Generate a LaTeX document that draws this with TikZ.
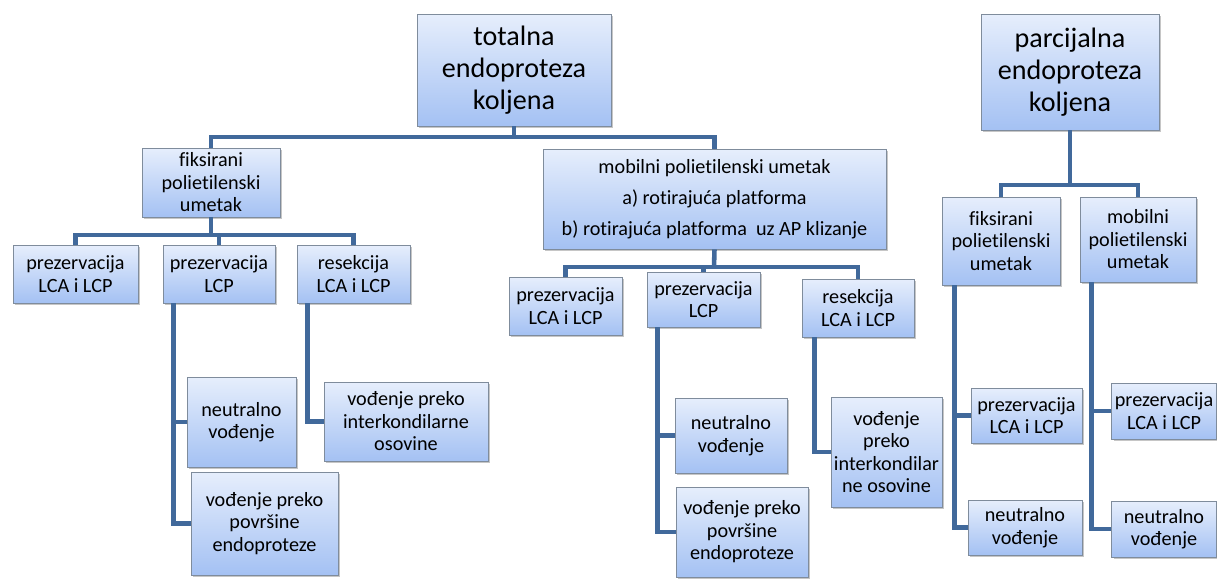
\documentclass[tikz,border=0pt]{standalone}
\usepackage{fontspec}
\setmainfont{Carlito}[Ligatures=NoCommon]
\usepackage{xcolor}
\usepackage{tikz}
\usetikzlibrary{shapes, shadows}

\definecolor{boxtop}{HTML}{E6EEFC}
\definecolor{boxbot}{HTML}{A4C1F3}
\definecolor{boxline}{HTML}{7F8C9C}
\definecolor{linkblue}{HTML}{41699B}

\begin{document}
\begin{tikzpicture}[x=0.02cm, y=-0.02cm,
    box/.style={draw=boxline, rectangle, line width=0.5pt, top color=boxtop, bottom color=boxbot,
        align=center, inner sep=1pt, font=\fontsize{11.5}{12.8}\selectfont,
        drop shadow={shadow xshift=0.04cm, shadow yshift=-0.04cm, opacity=0.45}},
    bigbox/.style={box, font=\fontsize{16}{18.4}\selectfont},
    link/.style={draw=linkblue, line width=2.6pt}]
    \useasboundingbox (0,0) rectangle (1217,579);

    % top level
    \node [bigbox, minimum width=3.88cm, minimum height=2.24cm] (total) at (514,70) {totalna\\endoproteza\\koljena};
    \node [bigbox, minimum width=3.56cm, minimum height=2.32cm] (partial) at (1070,72) {parcijalna\\endoproteza\\koljena};

    % totalna
    \node [box, minimum width=2.76cm, minimum height=1.38cm] (fixA) at (211,182.5) {fiksirani\\polietilenski\\umetak};
    \node [box, minimum width=6.86cm, minimum height=2.0cm] (mobA) at (714.5,199) {mobilni polietilenski umetak\\[5pt]a) rotirajuća platforma\\[5pt]b) rotirajuća platforma\ \ uz AP klizanje};

    \node [box, minimum width=2.5cm, minimum height=1.16cm] (lcaA) at (75.5,274) {prezervacija\\LCA i LCP};
    \node [box, minimum width=2.24cm, minimum height=1.16cm] (lcpA) at (219,274) {prezervacija\\LCP};
    \node [box, minimum width=2.26cm, minimum height=1.16cm] (resA) at (353.5,274) {resekcija\\LCA i LCP};
    \node [box, minimum width=2.18cm, minimum height=1.8cm] (neutA) at (241.5,422) {neutralno\\vođenje};
    \node [box, minimum width=2.94cm, minimum height=2.06cm] (povA) at (264.5,523.5) {vođenje preko\\površine\\endoproteze};
    \node [box, minimum width=3.28cm, minimum height=1.58cm] (intA) at (406,421.5) {vođenje preko\\interkondilarne\\osovine};

    \node [box, minimum width=2.26cm, minimum height=1.16cm] (lcaB) at (565.5,306) {prezervacija\\LCA i LCP};
    \node [box, minimum width=2.26cm, minimum height=1.1cm] (lcpB) at (703.5,299.5) {prezervacija\\LCP};
    \node [box, minimum width=2.24cm, minimum height=1.16cm] (resB) at (858,308) {resekcija\\LCA i LCP};
    \node [box, minimum width=2.24cm, minimum height=1.5cm] (neutB) at (731,435.5) {neutralno\\vođenje};
    \node [box, minimum width=2.64cm, minimum height=1.8cm] (povB) at (742,532) {vođenje preko\\površine\\endoproteze};
    \node [box, minimum width=2.22cm, minimum height=2.2cm] (intB) at (886.5,452) {vođenje\\preko\\interkondilar\\ne osovine};

    % parcijalna
    \node [box, minimum width=2.36cm, minimum height=1.76cm] (fixC) at (1001,241) {fiksirani\\polietilenski\\umetak};
    \node [box, minimum width=2.32cm, minimum height=1.7cm] (mobC) at (1138,239.5) {mobilni\\polietilenski\\umetak};
    \node [box, minimum width=2.22cm, minimum height=1.1cm] (lcaC) at (1026.5,415.5) {prezervacija\\LCA i LCP};
    \node [box, minimum width=2.28cm, minimum height=1.1cm] (neutC) at (1025,527.5) {neutralno\\vođenje};
    \node [box, minimum width=2.1cm, minimum height=1.12cm] (lcaD) at (1164,411) {prezervacija\\LCA i LCP};
    \node [box, minimum width=2.1cm, minimum height=1.12cm] (neutD) at (1164,529) {neutralno\\vođenje};

    % connectors
    \coordinate (barA) at (514,137);
    \coordinate (barB) at (219,235);
    \coordinate (barC) at (714,267);
    \coordinate (barD) at (1070,185);

    \draw [link] (total.south) -- (barA);
    \draw [link] (fixA.north) |- (barA) -| (mobA.north);

    \draw [link] (fixA.south) -- (fixA.south |- barB);
    \draw [link] (lcaA.north) |- (barB) -| (resA.north);
    \draw [link] (barB) -- (lcpA.north);

    \draw [link] (mobA.south) -- (barC);
    \draw [link] (lcaB.north) |- (barC) -| (resB.north);
    \draw [link] (lcpB.north) |- (barC);

    \draw [link] ([xshift=0.22cm]lcpA.south west) |- (neutA.west);
    \draw [link] ([xshift=0.22cm]lcpA.south west) |- (povA.west);
    \draw [link] ([xshift=0.22cm]resA.south west) |- (intA.west);

    \draw [link] ([xshift=0.22cm]lcpB.south west) |- (neutB.west);
    \draw [link] ([xshift=0.22cm]lcpB.south west) |- (povB.west);
    \draw [link] ([xshift=0.26cm]resB.south west) |- (intB.west);

    \draw [link] (partial.south) -- (barD);
    \draw [link] (fixC.north) |- (barD) -| (mobC.north);

    \draw [link] ([xshift=0.26cm]fixC.south west) |- (lcaC.west);
    \draw [link] ([xshift=0.26cm]fixC.south west) |- (neutC.west);
    \draw [link] ([xshift=0.24cm]mobC.south west) |- (lcaD.west);
    \draw [link] ([xshift=0.24cm]mobC.south west) |- (neutD.west);
\end{tikzpicture}
\end{document}
